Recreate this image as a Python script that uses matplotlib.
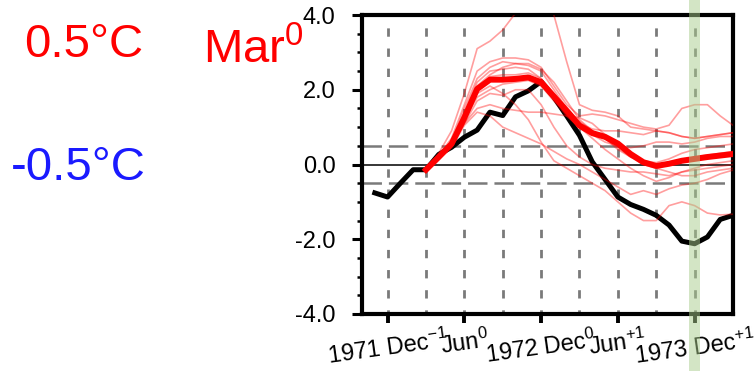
import matplotlib
matplotlib.use('Agg')
import matplotlib.pyplot as plt
from matplotlib.patches import Rectangle
from matplotlib.transforms import blended_transform_factory

plt.rcParams['font.family'] = ['Liberation Sans', 'DejaVu Sans']
plt.rcParams['mathtext.fontset'] = 'custom'
plt.rcParams['mathtext.rm'] = 'Liberation Sans'
plt.rcParams['mathtext.it'] = 'Liberation Sans:italic'
plt.rcParams['mathtext.bf'] = 'Liberation Sans:bold'
plt.rcParams['lines.scale_dashes'] = False

# months relative to Dec 1971 (= 0)
obs_months = list(range(-1, 28))          # Nov 1971 .. Mar 1974
obs_values = [-0.76, -0.87, -0.50, -0.14, -0.14, 0.27, 0.46, 0.73, 0.92, 1.40,
              1.31, 1.81, 1.97, 2.22, 1.80, 1.30, 0.78, 0.07, -0.40, -0.87,
              -1.07, -1.20, -1.36, -1.62, -2.05, -2.12, -1.94, -1.47, -1.36]

fc_months = list(range(3, 28))            # Mar 1972 .. Mar 1974
fc_mean = [-0.14, 0.20, 0.55, 1.25, 2.02, 2.27, 2.27, 2.29, 2.33, 2.20,
           1.82, 1.44, 1.04, 0.84, 0.74, 0.56, 0.28, 0.06, -0.04, 0.02,
           0.10, 0.15, 0.20, 0.24, 0.28]

member_01 = [-0.14, 0.30, 0.90, 1.90, 3.10, 3.30, 3.60, 4.05, 4.50, 4.40, 4.00, 2.75, 1.60,
             1.45, 1.40, 1.30, 1.00, 0.95, 0.90, 0.85, 0.75, 0.70, 0.75, 0.80, 0.85]
member_02 = [-0.14, 0.25, 0.70, 1.60, 2.50, 2.75, 2.85, 2.85, 2.80, 2.60, 2.10, 1.60, 1.30,
             1.35, 1.30, 1.20, 1.10, 1.00, 0.95, 1.05, 1.50, 1.60, 1.60, 1.30, 1.05]
member_03 = [-0.14, 0.20, 0.60, 1.50, 2.30, 2.60, 2.75, 2.70, 2.65, 2.50, 2.00, 1.50, 1.10,
             0.95, 0.90, 0.90, 0.85, 0.80, 0.90, 0.85, 0.75, 0.70, 0.75, 0.80, 0.85]
member_04 = [-0.14, 0.20, 0.60, 1.40, 2.20, 2.50, 2.55, 2.60, 2.55, 2.30, 1.80, 1.30, 1.00,
             0.80, 0.60, 0.50, 0.45, 0.50, 0.60, 0.60, 0.55, 0.60, 0.70, 0.75, 0.75]
member_05 = [-0.14, 0.20, 0.55, 1.30, 2.00, 2.35, 2.40, 2.40, 2.45, 2.30, 1.90, 1.50, 1.15,
             0.90, 0.70, 0.45, 0.20, 0.05, -0.05, 0.00, 0.10, 0.20, 0.25, 0.30, 0.35]
member_06 = [-0.14, 0.15, 0.50, 1.20, 1.80, 2.00, 2.15, 2.20, 2.25, 2.10, 1.70, 1.30, 1.00,
             0.70, 0.40, 0.15, -0.10, -0.30, -0.45, -0.35, -0.20, -0.10, 0.00, 0.05, 0.10]
member_07 = [-0.14, 0.20, 0.50, 1.10, 1.70, 1.90, 1.85, 2.00, 2.00, 1.60, 1.00, 0.50, 0.20,
             0.00, -0.10, -0.15, -0.20, -0.20, -0.25, -0.30, -0.20, -0.15, -0.10, -0.05, 0.00]
member_08 = [-0.14, 0.15, 0.50, 1.10, 1.50, 1.60, 1.50, 1.45, 1.40, 1.40, 1.35, 1.30, 1.25,
             1.10, 0.80, 0.50, 0.20, 0.00, -0.10, -0.20, -0.30, -0.30, -0.20, -0.15, -0.10]
member_09 = [-0.14, 0.15, 0.45, 1.05, 1.40, 1.30, 1.00, 0.85, 0.70, 0.55, 0.35, 0.15, 0.00,
             -0.20, -0.40, -0.60, -0.80, -0.70, -0.80, -0.65, -0.55, -0.50, -0.40, -0.25, -0.15]
member_10 = [-0.14, 0.20, 0.55, 1.25, 1.90, 2.10, 1.90, 1.60, 1.20, 0.60, 0.10, -0.10, -0.30,
             -0.50, -0.70, -1.00, -1.30, -1.50, -1.50, -1.10, -1.00, -1.10, -1.30, -1.35, -1.33]
member_11 = [-0.14, 0.25, 0.60, 1.35, 2.10, 2.40, 2.60, 2.70, 2.70, 2.55, 2.20, 1.70, 1.20,
             0.90, 0.70, 0.40, 0.20, 0.10, 0.05, 0.15, 0.30, 0.40, 0.45, 0.50, 0.55]
members = [member_01, member_02, member_03, member_04, member_05, member_06,
           member_07, member_08, member_09, member_10, member_11]

xtick_pos = [0, 6, 12, 18, 24]
xtick_labels = ["1971 Dec$^{-1}$", "Jun$^{0}$", "1972 Dec$^{0}$", "Jun$^{+1}$", "1973 Dec$^{+1}$"]
ytick_pos = [-4, -2, 0, 2, 4]
ytick_labels = ["-4.0", "-2.0", "0.0", "2.0", "4.0"]
grid_months = [0, 3, 6, 9, 12, 15, 18, 21, 24]
highlight_month = 24

W, H = 756, 371
fig = plt.figure(figsize=(W / 100, H / 100), dpi=100)
ax = fig.add_axes([362 / W, 1 - 314 / H, 371 / W, 299 / H])
ax.set_xlim(-2, 27)
ax.set_ylim(-4, 4)

for gm in grid_months:
    ax.axvline(gm, color='#7a7a7a', lw=2.0, linestyle=(3, (6, 8.5)), zorder=1)
for hv in (0.5, -0.5):
    ax.axhline(hv, color='#7a7a7a', lw=1.8, linestyle=(0, (14, 5)), zorder=1)
ax.axhline(0, color='black', lw=1.1, zorder=1.5)

ax.plot(obs_months, obs_values, color='black', lw=3.6, solid_joinstyle='round', zorder=2)
for m in members:
    ax.plot(fc_months, m, color='red', lw=1.2, alpha=0.38, zorder=3)
ax.plot(fc_months, fc_mean, color='red', lw=4.3, solid_joinstyle='round', zorder=4)

trans = blended_transform_factory(ax.transData, fig.transFigure)
band = Rectangle((highlight_month - 0.45, 0), 0.86, 1, transform=trans,
                 facecolor='#a9cd8c', alpha=0.5, edgecolor='none', clip_on=False, zorder=5)
fig.add_artist(band)

for s in ax.spines.values():
    s.set_linewidth(3)
ax.set_xticks(xtick_pos)
ax.set_xticklabels(xtick_labels, rotation=8, fontsize=17)
ax.set_yticks(ytick_pos)
ax.set_yticklabels(ytick_labels, fontsize=17)
ax.set_yticks([v / 2 for v in range(-8, 9)], minor=True)
ax.tick_params(axis='y', which='major', direction='out', length=7, width=2.2, pad=12)
ax.tick_params(axis='y', which='minor', direction='out', length=3.5, width=1.8)
ax.tick_params(axis='x', which='major', direction='out', length=6.5, width=2.8, pad=3)

fig.text(24 / W, 1 - 57 / H, "0.5°C", color='red', fontsize=34, ha='left', va='baseline')
fig.text(11 / W, 1 - 180 / H, "-0.5°C", color='#1a1aff', fontsize=34, ha='left', va='baseline')
fig.text(203 / W, 1 - 63 / H, "Mar$^{0}$", color='red', fontsize=34, ha='left', va='baseline')

fig.savefig('out.png', dpi=100)
